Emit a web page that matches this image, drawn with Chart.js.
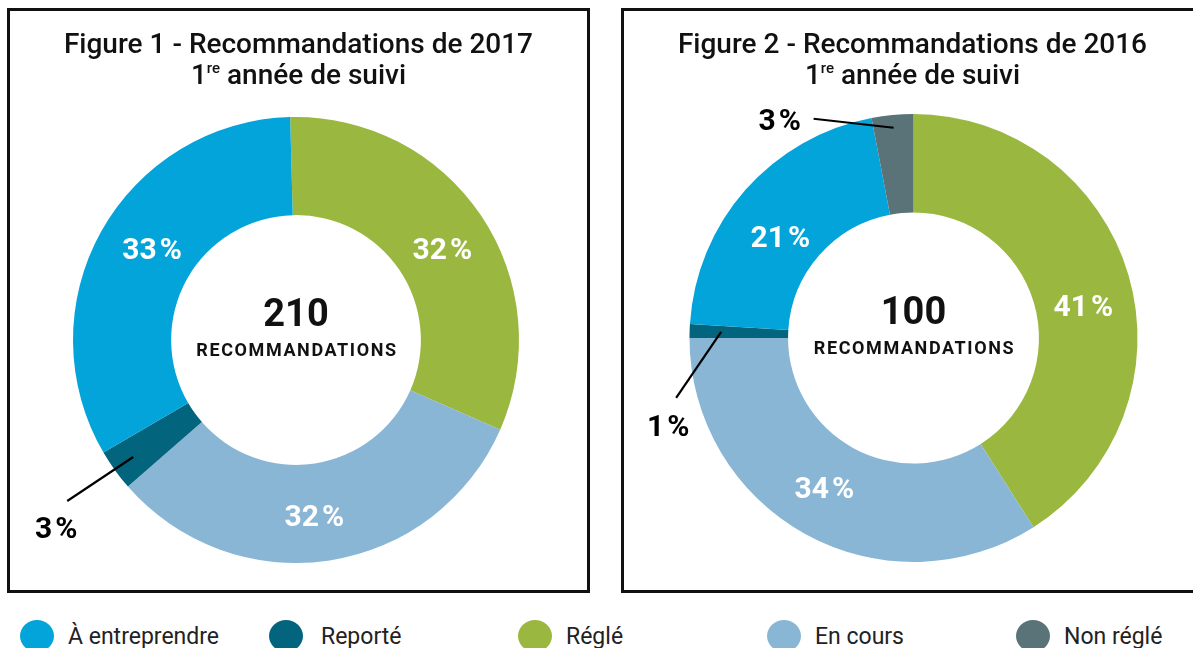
<!DOCTYPE html>
<html>
<head>
<meta charset="utf-8">
<script src="https://cdn.jsdelivr.net/npm/chart.js@4.4.1/dist/chart.umd.min.js"></script>
<style>
  html, body { margin: 0; padding: 0; background: #fff; }
  body { width: 1193px; height: 648px; position: relative; overflow: hidden; font-family: Roboto, "Noto Sans", sans-serif; }
  .box { position: absolute; top: 8px; width: 583px; height: 585px; border: 3px solid #111; box-sizing: border-box; }
  .box canvas { position: absolute; left: 0; top: 0; }
  .title { position: absolute; left: 0; right: 0; top: 17px; text-align: center; font-size: 28px; font-weight: 500; line-height: 31px; color: #111; z-index: 2; }
  .title sup { font-size: 15px; vertical-align: 0; position: relative; top: -11px; }
  #legend { position: absolute; left: 20px; top: 620px; display: flex; }
  .item { width: 249px; display: flex; align-items: center; font-size: 23px; color: #222; }
  .item:nth-child(2) .dot { margin-right: 18px; }
  .dot { width: 34px; height: 32px; border-radius: 50%; margin-right: 14px; flex: none; }
</style>
</head>
<body>
<div class="box" id="box1" style="left:7px">
  <div class="title">Figure 1 - Recommandations de 2017<br>1<sup>re</sup> année de suivi</div>
  <canvas id="chart1" width="577" height="579"></canvas>
</div>
<div class="box" id="box2" style="left:621px">
  <div class="title">Figure 2 - Recommandations de 2016<br>1<sup>re</sup> année de suivi</div>
  <canvas id="chart2" width="577" height="579"></canvas>
</div>
<div id="legend"></div>

<script>
// legend order
const categories = ["À entreprendre", "Reporté", "Réglé", "En cours", "Non réglé"];
const categoryColors = ["#03a4da", "#02647d", "#9ab73f", "#8ab6d5", "#597379"];

// Figure 1 - 2017 (percent, clockwise from top)
const fig1Labels = ["Réglé", "En cours", "Reporté", "À entreprendre"];
const fig1Values = [32, 32, 3, 33];
const fig1Total = 210;

// Figure 2 - 2016
const fig2Labels = ["Réglé", "En cours", "Reporté", "À entreprendre", "Non réglé"];
const fig2Values = [41, 34, 1, 21, 3];
const fig2Total = 100;

function colorOf(label) {
    return categoryColors[categories.indexOf(label)];
}

// labels on the slices + leader lines for small slices + center text
const sliceLabels = {
    id: "sliceLabels",
    afterDatasetsDraw(chart, args, opts) {
        const ctx = chart.ctx;
        const meta = chart.getDatasetMeta(0);
        const values = chart.data.datasets[0].data;

        ctx.save();
        ctx.textAlign = "center";
        ctx.textBaseline = "middle";
        ctx.font = "bold 30px Roboto";

        meta.data.forEach((arc, i) => {
            const text = values[i] + "\u200A%";
            const p = arc.getProps(["x", "y", "startAngle", "endAngle", "innerRadius", "outerRadius"], true);
            const mid = (p.startAngle + p.endAngle) / 2;
            const co = opts.callouts[i];

            if (co) {
                const r = p.innerRadius + co.f * (p.outerRadius - p.innerRadius);
                const sx = p.x + Math.cos(mid) * r;
                const sy = p.y + Math.sin(mid) * r;
                const ex = sx + co.dx;
                const ey = sy + co.dy;
                ctx.strokeStyle = "#000";
                ctx.lineWidth = 2.2;
                ctx.beginPath();
                ctx.moveTo(sx, sy);
                ctx.lineTo(ex, ey);
                ctx.stroke();
                ctx.fillStyle = "#000";
                ctx.fillText(text, ex + co.lx, ey + co.ly);
            } else {
                const pos = arc.tooltipPosition(true);
                const n = opts.nudge[i] || [0, 0];
                ctx.fillStyle = "#fff";
                ctx.fillText(text, pos.x + n[0], pos.y + n[1]);
            }
        });

        // center
        const cx = meta.data[0].x;
        const cy = meta.data[0].y;
        ctx.fillStyle = "#111";
        ctx.font = "bold 38px Roboto";
        ctx.fillText(String(opts.total), cx, cy - 24);
        ctx.font = "bold 18px Roboto";
        ctx.letterSpacing = "1.6px";
        ctx.fillText("RECOMMANDATIONS", cx + 1, cy + 11);
        ctx.restore();
    }
};

function makeChart(id, labels, values, total, rotation, padding, callouts, nudge) {
    const ctx = document.getElementById(id).getContext("2d");
    return new Chart(ctx, {
        type: "doughnut",
        data: {
            labels: labels,
            datasets: [{
                data: values,
                backgroundColor: labels.map(colorOf),
                borderWidth: 0
            }]
        },
        options: {
            responsive: false,
            animation: false,
            cutout: "56%",
            rotation: rotation,
            layout: { padding: padding },
            plugins: {
                legend: { display: false },
                tooltip: { enabled: false },
                sliceLabels: { total: total, callouts: callouts, nudge: nudge }
            }
        },
        plugins: [sliceLabels]
    });
}

makeChart("chart1", fig1Labels, fig1Values, fig1Total, -1.5,
    { left: 63, top: 106, right: 68, bottom: 27 },
    { 2: { f: 0.77, dx: -66, dy: 44, lx: -11, ly: 30 } },
    { 0: [2, 9], 1: [-8, 7], 3: [8, -4] });

makeChart("chart2", fig2Labels, fig2Values, fig2Total, 0,
    { left: 65, top: 103, right: 63, bottom: 28 },
    {
        2: { f: 0.68, dx: -45, dy: 66, lx: -8, ly: 31 },
        4: { f: 0.87, dx: -80, dy: -9, lx: -34, ly: 4 }
    },
    { 0: [2, 19], 1: [-5, -1], 3: [-2, 17] });

// html legend
const legend = document.getElementById("legend");
categories.forEach((c, i) => {
    legend.innerHTML += `
        <div class="item"><span class="dot" style="background:${categoryColors[i]}"></span>${c}</div>
    `;
});
</script>
</body>
</html>
